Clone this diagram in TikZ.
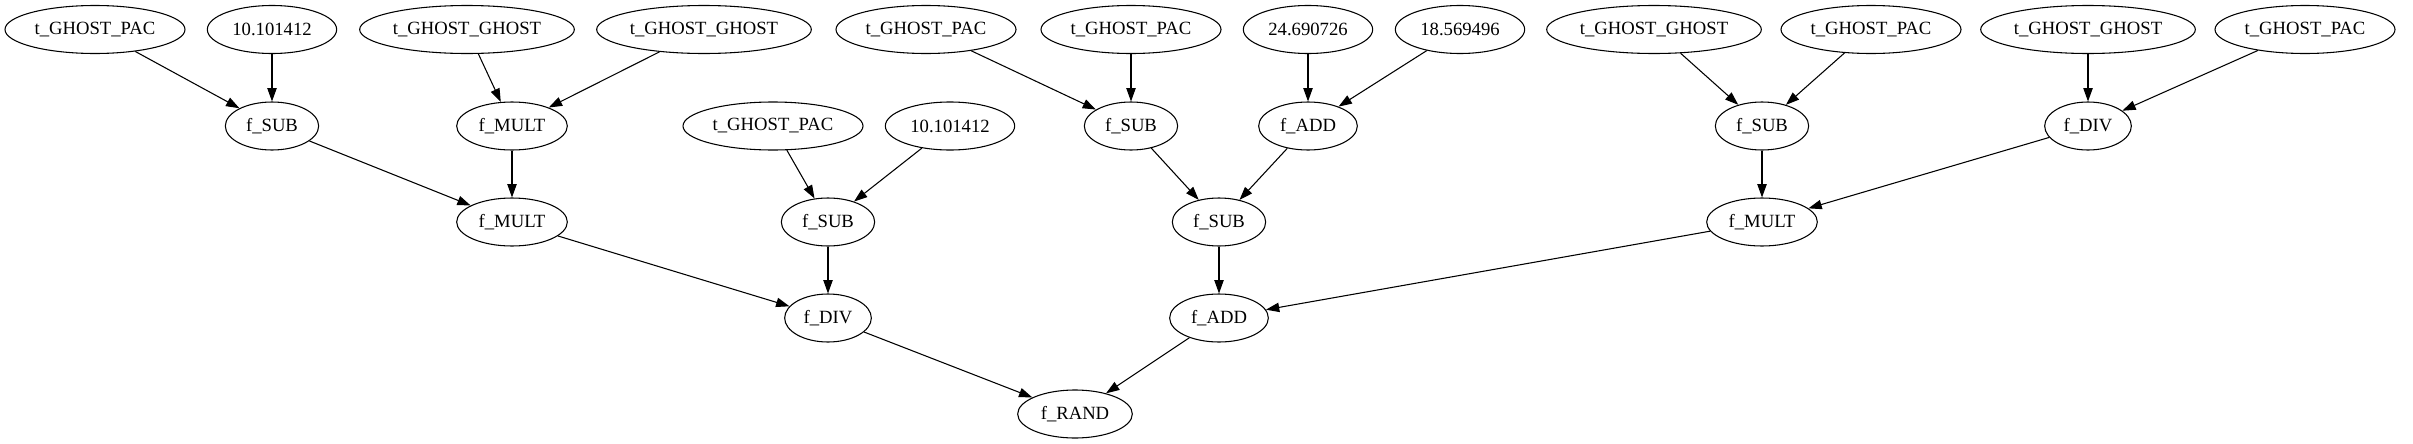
\documentclass[tikz,border=0pt]{standalone}
\usepackage{fontspec}
\setmainfont{Liberation Serif}
\usetikzlibrary{arrows.meta, shapes.geometric}

\tikzset{
  gpnode/.style={ellipse, draw, line width=0.8pt, inner sep=0pt,
    minimum height=36pt, minimum width=#1,
    font=\fontsize{14pt}{16pt}\selectfont},
  gpedge/.style={-{Triangle[length=10pt,width=7pt]}, line width=0.8pt}
}

\begin{document}
\begin{tikzpicture}[x=0.75pt, y=-0.75pt]
\useasboundingbox (0,0) rectangle (2413,443);

% leaves
\foreach \n/\x/\w/\t in {a1/95/135pt/t\_GHOST\_PAC, a2/272/97pt/10.101412,
    a3/467/161pt/t\_GHOST\_GHOST, a4/704/161pt/t\_GHOST\_GHOST,
    a5/926/135pt/t\_GHOST\_PAC, a6/1131/135pt/t\_GHOST\_PAC,
    a7/1308/97pt/24.690726, a8/1460/97pt/18.569496,
    a9/1654/161pt/t\_GHOST\_GHOST, a10/1871/135pt/t\_GHOST\_PAC,
    a11/2088/161pt/t\_GHOST\_GHOST, a12/2305/135pt/t\_GHOST\_PAC}
  \node[gpnode=\w] (\n) at (\x,29.5) {\t};

% second row
\foreach \n/\x/\w/\t in {b1/272/70pt/f\_SUB, b2/512/83pt/f\_MULT,
    b3/773/135pt/t\_GHOST\_PAC, b4/950/97pt/10.101412,
    b5/1131/70pt/f\_SUB, b6/1308/74pt/f\_ADD,
    b7/1762/70pt/f\_SUB, b8/2088/65pt/f\_DIV}
  \node[gpnode=\w] (\n) at (\x,126) {\t};

% third row
\foreach \n/\x/\w/\t in {c1/512/83pt/f\_MULT, c2/828/70pt/f\_SUB,
    c3/1219/70pt/f\_SUB, c4/1762/83pt/f\_MULT}
  \node[gpnode=\w] (\n) at (\x,222) {\t};

% fourth row and root
\node[gpnode=65pt] (d1) at (828,318) {f\_DIV};
\node[gpnode=74pt] (d2) at (1219,318) {f\_ADD};
\node[gpnode=86pt] (e1) at (1075,414) {f\_RAND};

\foreach \s/\e in {a1/b1, a2/b1, a3/b2, a4/b2, a5/b5, a6/b5, a7/b6, a8/b6,
    a9/b7, a10/b7, a11/b8, a12/b8, b1/c1, b2/c1, b3/c2, b4/c2, b5/c3, b6/c3,
    b7/c4, b8/c4, c1/d1, c2/d1, c3/d2, c4/d2, d1/e1, d2/e1}
  \draw[gpedge] (\s) -- (\e);

\end{tikzpicture}
\end{document}
